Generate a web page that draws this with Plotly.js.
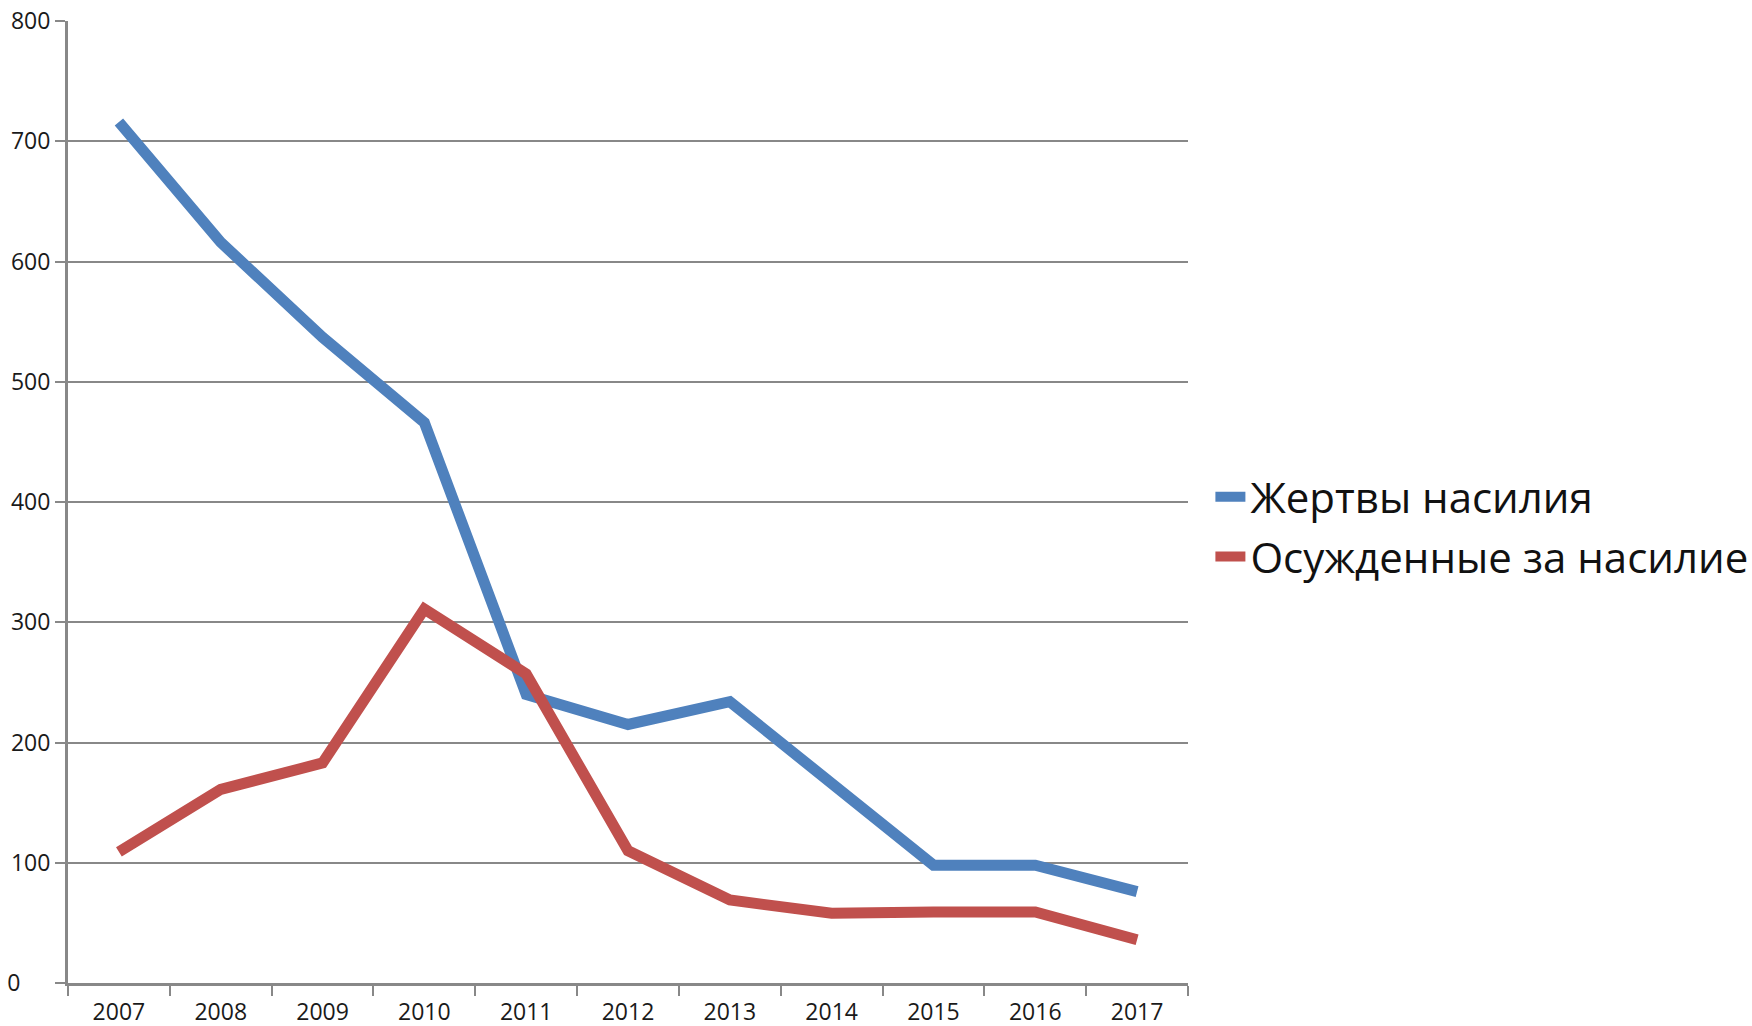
<!DOCTYPE html>
<html>
<head>
<meta charset="utf-8">
<script src="https://cdn.plot.ly/plotly-3.0.1.min.js"></script>
<style>html,body{margin:0;padding:0;background:#fff;}#chart{width:1752px;height:1026px;}</style>
</head>
<body>
<div id="chart"></div>
<script>
const years = ['2007','2008','2009','2010','2011','2012','2013','2014','2015','2016','2017'];
const victims = [716, 616, 537, 466, 240, 215, 234, 167, 98, 98, 76];
const convicted = [109, 161, 183, 311, 257, 110, 69, 58, 59, 59, 36];
const seriesNames = ['Жертвы насилия', 'Осужденные за насилие'];
const yTickVals = [0, 100, 200, 300, 400, 500, 600, 700, 800];
const yTickText = ['0\u00A0\u00A0\u00A0\u00A0\u00A0', '100', '200', '300', '400', '500', '600', '700', '800'];

const traces = [
  {x: years, y: victims, name: seriesNames[0], type: 'scatter', mode: 'lines',
   line: {color: '#4F81BD', width: 11}, legendgroup: 'a'},
  {x: years, y: convicted, name: seriesNames[1], type: 'scatter', mode: 'lines',
   line: {color: '#C0504D', width: 11}, legendgroup: 'b'}
];

const layout = {
  width: 1752, height: 1026,
  margin: {l: 68, r: 564, t: 21, b: 43, autoexpand: false},
  paper_bgcolor: '#fff', plot_bgcolor: '#fff',
  font: {family: 'Open Sans, sans-serif', color: '#222'},
  showlegend: true,
  legend: {x: 1.02, xanchor: 'left', y: 0.474, yanchor: 'middle',
           font: {size: 42, color: '#111', family: 'Open Sans, sans-serif'},
           traceorder: 'grouped', tracegroupgap: 2, bgcolor: 'rgba(0,0,0,0)'},
  xaxis: {type: 'category', range: [-0.5, 10.5], tickson: 'boundaries',
          ticks: 'outside', ticklen: 10, tickwidth: 2, tickcolor: '#888',
          showline: true, linecolor: '#888', linewidth: 3,
          showgrid: false, zeroline: false, ticklabelstandoff: 6,
          tickfont: {size: 23, color: '#1a1a1a'}, fixedrange: true},
  yaxis: {range: [0, 800], tickvals: yTickVals, ticktext: yTickText,
          ticks: 'outside', ticklen: 10, tickwidth: 2, tickcolor: '#888',
          showline: true, linecolor: '#888', linewidth: 3,
          showgrid: true, gridcolor: '#888', gridwidth: 2, zeroline: false,
          tickfont: {size: 23, color: '#1a1a1a'}, fixedrange: true}
};

Plotly.newPlot('chart', traces, layout, {displayModeBar: false, staticPlot: true});
</script>
</body>
</html>
